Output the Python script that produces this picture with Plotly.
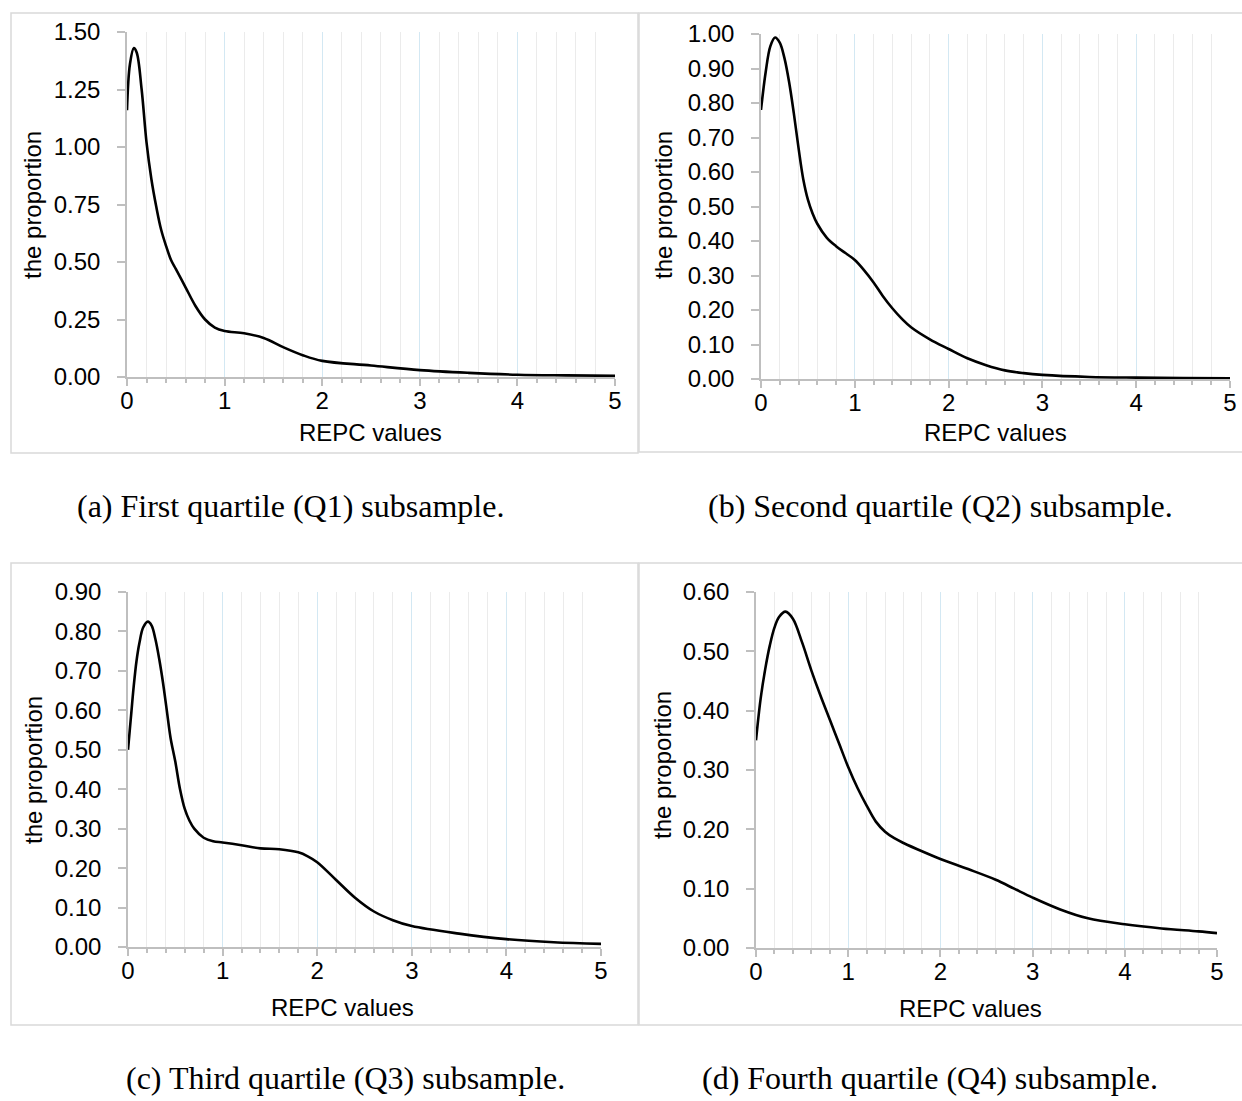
import plotly.graph_objects as go

W, H = 1242, 1101

# ---------------- data ----------------
q1_x = [0, 0.03, 0.07, 0.1, 0.15, 0.2, 0.25, 0.3, 0.35, 0.4, 0.45, 0.5, 0.6, 0.7, 0.8, 0.9, 1.0,
        1.2, 1.4, 1.6, 1.8, 2.0, 2.5, 3.0, 3.5, 4.0, 4.5, 5.0]
q1_y = [1.16, 1.36, 1.43, 1.41, 1.25, 1.02, 0.86, 0.74, 0.64, 0.57, 0.51, 0.47, 0.39, 0.31,
        0.25, 0.215, 0.20, 0.19, 0.17, 0.13, 0.095, 0.07, 0.05, 0.03, 0.018, 0.01, 0.007, 0.005]

q2_x = [0, 0.05, 0.1, 0.15, 0.2, 0.25, 0.3, 0.35, 0.4, 0.45, 0.5, 0.55, 0.6, 0.7, 0.8, 0.9,
        1.0, 1.1, 1.2, 1.3, 1.4, 1.5, 1.6, 1.8, 2.0, 2.2, 2.4, 2.6, 2.8, 3.0, 3.5, 4.0, 4.5, 5.0]
q2_y = [0.78, 0.89, 0.965, 0.99, 0.975, 0.93, 0.86, 0.77, 0.67, 0.58, 0.52, 0.48, 0.45, 0.41,
        0.385, 0.365, 0.345, 0.315, 0.28, 0.24, 0.205, 0.175, 0.15, 0.115, 0.087, 0.06, 0.04,
        0.025, 0.017, 0.012, 0.006, 0.004, 0.003, 0.002]

q3_x = [0, 0.03, 0.06, 0.09, 0.12, 0.16, 0.21, 0.25, 0.29, 0.33, 0.37, 0.41, 0.45, 0.5, 0.55,
        0.6, 0.65, 0.7, 0.8, 0.9, 1.0, 1.2, 1.4, 1.6, 1.8, 1.9, 2.0, 2.2, 2.4, 2.6, 2.8, 3.0,
        3.5, 4.0, 4.5, 5.0]
q3_y = [0.50, 0.58, 0.66, 0.725, 0.77, 0.81, 0.825, 0.815, 0.78, 0.73, 0.67, 0.60, 0.53,
        0.47, 0.40, 0.35, 0.32, 0.30, 0.277, 0.268, 0.265, 0.258, 0.25, 0.248, 0.24, 0.23,
        0.215, 0.17, 0.125, 0.09, 0.068, 0.053, 0.034, 0.02, 0.012, 0.008]

q4_x = [0, 0.05, 0.1, 0.15, 0.2, 0.25, 0.32, 0.4, 0.5, 0.6, 0.7, 0.8, 0.9, 1.0, 1.1, 1.2, 1.3,
        1.4, 1.5, 1.6, 1.8, 2.0, 2.3, 2.6, 2.8, 3.0, 3.3, 3.6, 4.0, 4.4, 4.8, 5.0]
q4_y = [0.35, 0.42, 0.47, 0.51, 0.54, 0.558, 0.567, 0.555, 0.515, 0.468, 0.425, 0.385, 0.345,
        0.305, 0.27, 0.24, 0.213, 0.196, 0.185, 0.177, 0.163, 0.15, 0.133, 0.115, 0.10, 0.085,
        0.065, 0.05, 0.04, 0.033, 0.028, 0.025]

captions = ["(a) First quartile (Q1) subsample.",
            "(b) Second quartile (Q2) subsample.",
            "(c) Third quartile (Q3) subsample.",
            "(d) Fourth quartile (Q4) subsample."]
x_title = "REPC values"
y_title = "the proportion"
y_max = [1.5, 1.0, 0.9, 0.6]
y_step = [0.25, 0.1, 0.1, 0.1]

series = [(q1_x, q1_y), (q2_x, q2_y), (q3_x, q3_y), (q4_x, q4_y)]

# ---------------- layout (pixel geometry) ----------------
def fx(p):
    return p / W

def fy(p):
    return 1 - p / H

# plot areas: (x0, x1, ytop, ybottom) in px
areas = [(127, 615, 32, 377), (761, 1230, 34, 379), (128, 601, 592, 947), (756, 1217, 592, 948)]
frames = [(11, 638, 13, 453), (639, 1260, 13, 452), (11, 638, 563, 1025), (639, 1260, 563, 1025)]
xtitle_pos = [(370, 433), (995, 433), (342, 1007), (970, 1008)]
ytitle_pos = [(33, 205), (664, 205), (33, 770), (662, 765)]
caption_pos = [(290, 506), (940, 506), (345, 1078), (930, 1078)]

SANS = "Liberation Sans, Arial, sans-serif"
SERIF = "Liberation Serif, Times New Roman, serif"
AXIS_GRAY = "#bfbfbf"
FS = 24

fig = go.Figure()
shapes = []
annotations = []

for i, (xs, ys) in enumerate(series):
    n = "" if i == 0 else str(i + 1)
    fig.add_trace(go.Scatter(x=xs, y=ys, mode="lines",
                             line=dict(color="black", width=2.6, shape="spline", smoothing=1.0),
                             xaxis="x" + n, yaxis="y" + n, showlegend=False, hoverinfo="skip"))
    x0, x1, yt, yb = areas[i]
    xa = dict(domain=[fx(x0), fx(x1)], range=[0, 5], tick0=0, dtick=1,
              showgrid=True, gridcolor="#d3e8f3", gridwidth=1,
              minor=dict(dtick=0.2, tick0=0, showgrid=True, gridcolor="#ebebeb", gridwidth=1,
                         ticks="outside", ticklen=4, tickcolor=AXIS_GRAY, tickwidth=1.5),
              ticks="outside", ticklen=7, tickcolor=AXIS_GRAY, tickwidth=1.5,
              showline=True, linecolor=AXIS_GRAY, linewidth=1.5, zeroline=False,
              tickfont=dict(family=SANS, size=FS, color="black"),
              ticklabelstandoff=-6,
              automargin=False, anchor="y" + n, fixedrange=True)
    ya = dict(domain=[fy(yb), fy(yt)], range=[0, y_max[i]], tick0=0, dtick=y_step[i],
              tickformat=".2f", showgrid=False,
              ticks="outside", ticklen=8, tickcolor=AXIS_GRAY, tickwidth=1.5,
              showline=True, linecolor=AXIS_GRAY, linewidth=1.5, zeroline=False,
              tickfont=dict(family=SANS, size=FS, color="black"),
              ticklabelstandoff=12, automargin=False,
              anchor="x" + n, fixedrange=True)
    fig.update_layout(**{"xaxis" + n: xa, "yaxis" + n: ya})

    fx0, fx1, fyt, fyb = frames[i]
    shapes.append(dict(type="rect", xref="paper", yref="paper",
                       x0=fx(fx0), x1=fx(fx1), y0=fy(fyb), y1=fy(fyt),
                       line=dict(color="#d9d9d9", width=1.5), layer="below"))

    tx, ty = xtitle_pos[i]
    annotations.append(dict(text=x_title, x=fx(tx), y=fy(ty), xref="paper", yref="paper",
                            showarrow=False, xanchor="center", yanchor="middle",
                            font=dict(family=SANS, size=FS, color="black")))
    tx, ty = ytitle_pos[i]
    annotations.append(dict(text=y_title, x=fx(tx), y=fy(ty), xref="paper", yref="paper",
                            showarrow=False, xanchor="center", yanchor="middle", textangle=-90,
                            font=dict(family=SANS, size=FS, color="black")))
    cx, cy = caption_pos[i]
    annotations.append(dict(text=captions[i], x=fx(cx), y=fy(cy), xref="paper", yref="paper",
                            showarrow=False, xanchor="center", yanchor="middle",
                            font=dict(family=SERIF, size=32, color="black")))

fig.update_layout(width=W, height=H,
                  margin=dict(l=0, r=0, t=0, b=0, pad=0, autoexpand=False),
                  paper_bgcolor="white", plot_bgcolor="white",
                  shapes=shapes, annotations=annotations, showlegend=False)

fig.write_html("out.html", config={"displayModeBar": False},
               post_script="document.body.style.margin='0px';document.body.style.overflow='hidden';")
